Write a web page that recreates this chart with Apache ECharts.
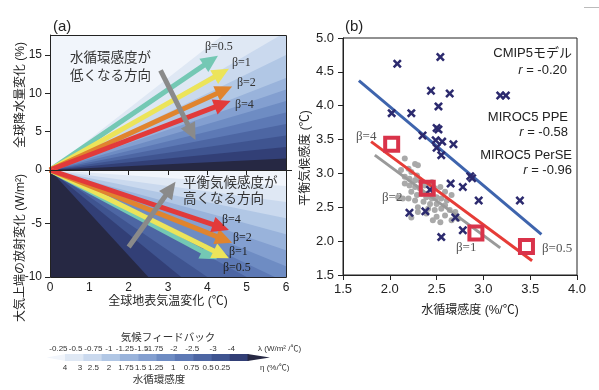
<!DOCTYPE html>
<html><head><meta charset="utf-8">
<script src="https://cdn.jsdelivr.net/npm/echarts@6/dist/echarts.min.js"></script>
<style>html,body{margin:0;padding:0;background:#fff}#c{width:599px;height:390px}</style>
</head><body><div id="c"></div>
<script>
// ---------- Panel (a) ----------
const tempTicks = [0, 1, 2, 3, 4, 5, 6];
const etaLevels = [4, 3, 2.5, 2, 1.75, 1.5, 1.25, 1, 0.75, 0.5, 0.25];
const lambdaLevels = [-0.25, -0.5, -0.75, -1, -1.25, -1.5, -1.75, -2, -2.5, -3, -4];
const binColors = ['#f1f5fb', '#dfe8f4', '#cad9ee', '#b1c7e5', '#99b3db', '#839fd0', '#6e8cc3', '#5d79b5', '#4d66a3', '#3f5490', '#323f76', '#262843'];
const betaLabels = ['β=0.5', 'β=1', 'β=2', 'β=4'];
const arrowColors = ['#74c8b4', '#ece45a', '#e0842e', '#e23a3a'];
const precipArrowEnds = [[4.27, 14.9], [4.55, 13.2], [4.63, 10.9], [4.59, 9.0]];
const radArrowEnds = [[4.25, -8.35], [4.55, -8.25], [4.63, -6.8], [4.55, -5.6]];
const grayArrowTop = [[2.81, 13.0], [3.70, 3.9]];
const grayArrowBottom = [[2.0, -7.2], [3.19, -1.1]];

// ---------- Panel (b) ----------
const cmip5 = [[2.08,4.62],[2.54,4.72],[2.44,4.22],[2.64,4.18],[3.18,4.15],[3.24,4.15],[2.02,3.89],[2.23,3.89],[2.52,3.99],[2.50,3.67],[2.52,3.65],[2.35,3.56],[2.49,3.49],[2.56,3.47],[2.68,3.43],[2.50,3.38],[2.55,3.27],[2.86,2.96],[2.88,2.93],[2.65,2.85],[2.78,2.80],[2.95,2.60],[3.39,2.60],[2.43,2.76],[2.21,2.42],[2.38,2.44],[2.70,2.35],[2.78,2.16],[2.55,2.06]];
const ppe = [[2.16,3.22],[2.27,3.14],[2.30,3.12],[2.20,3.07],[2.23,3.02],[2.29,2.97],[2.16,2.95],[2.21,2.92],[2.27,2.90],[2.32,2.90],[2.16,2.85],[2.21,2.82],[2.27,2.80],[2.32,2.78],[2.37,2.82],[2.45,2.87],[2.48,2.78],[2.54,2.80],[2.66,2.68],[2.23,2.73],[2.29,2.68],[2.34,2.70],[2.39,2.65],[2.45,2.63],[2.50,2.65],[2.55,2.63],[2.61,2.60],[2.20,2.63],[2.27,2.60],[2.36,2.58],[2.43,2.55],[2.50,2.55],[2.59,2.53],[2.30,2.50],[2.41,2.48],[2.48,2.46],[2.55,2.48],[2.64,2.46],[2.70,2.43],[2.50,2.36],[2.59,2.38],[2.46,2.31],[2.54,2.28],[2.66,2.31],[2.73,2.33],[2.09,2.65],[2.14,2.63],[2.59,2.73],[2.30,2.43],[2.39,2.41],[2.23,2.35],[2.12,3.05],[2.40,2.70]];
const perse = [[2.02, 3.43], [2.40, 2.78], [2.92, 2.12], [3.46, 1.92]];
const cmip5Fit = [[1.67, 4.37], [3.62, 2.10]];
const perseFit = [[1.80, 3.47], [3.52, 1.71]];
const ppeFit = [[1.84, 3.27], [3.18, 1.90]];
const xTicksB = [1.5, 2.0, 2.5, 3.0, 3.5, 4.0];
const yTicksB = [1.5, 2.0, 2.5, 3.0, 3.5, 4.0, 4.5, 5.0];

// ---------- Colorbar label layout (in colorbar units) ----------
const cbLambdaPos = [-0.36, 0.58, 1.55, 2.4, 3.27, 4.18, 4.87, 5.95, 6.95, 8.09, 9.09];
const cbEtaPos = [0, 0.82, 1.55, 2.4, 3.33, 4.13, 4.96, 5.91, 6.91, 7.82, 8.6];

const SANS = "'Liberation Sans','Noto Sans CJK JP',sans-serif";
const SERIF = "'Liberation Serif','DejaVu Serif',serif";
const AX = '#222';

const tMax = tempTicks[tempTicks.length - 1];

const topWedges = etaLevels.map((eta, i) => ({
  type: 'line', xAxisIndex: 0, yAxisIndex: 0, silent: true, z: 1,
  data: [[0, 0], [tMax, eta * tMax]], symbol: 'none',
  lineStyle: { width: 0, opacity: 0 },
  areaStyle: { color: binColors[i + 1], opacity: 1, origin: 'start' }
}));
const bottomWedges = lambdaLevels.map((lam, i) => ({ lam, i })).reverse().map(({ lam, i }) => ({
  type: 'line', xAxisIndex: 1, yAxisIndex: 1, silent: true, z: 1,
  data: [[0, 0], [tMax, lam * tMax]], symbol: 'none',
  lineStyle: { width: 0, opacity: 0 },
  areaStyle: { color: binColors[i], opacity: 1, origin: 'end' }
}));

function arrowRender(params, api) {
  const p0 = api.coord([api.value(0), api.value(1)]);
  const p1 = api.coord([api.value(2), api.value(3)]);
  const color = api.visual('color');
  const dx = p1[0] - p0[0], dy = p1[1] - p0[1];
  const len = Math.hypot(dx, dy);
  const ux = dx / len, uy = dy / len, nx = -uy, ny = ux;
  const hl = 17, hw = 8;
  const b = [p1[0] - ux * hl, p1[1] - uy * hl];
  return {
    type: 'group', children: [
      { type: 'line', shape: { x1: p0[0], y1: p0[1], x2: b[0] + ux * 2, y2: b[1] + uy * 2 }, style: { stroke: color, lineWidth: 5 } },
      { type: 'polygon', shape: { points: [p1, [b[0] + nx * hw, b[1] + ny * hw], [b[0] - nx * hw, b[1] - ny * hw]] }, style: { fill: color } }
    ]
  };
}

const topArrows = precipArrowEnds.map((e, i) => ({ value: [0, 0, e[0], e[1]], itemStyle: { color: arrowColors[i] } }))
  .concat([{ value: [grayArrowTop[0][0], grayArrowTop[0][1], grayArrowTop[1][0], grayArrowTop[1][1]], itemStyle: { color: '#8a8a8a' } }]);
const bottomArrows = radArrowEnds.map((e, i) => ({ value: [0, 0, e[0], e[1]], itemStyle: { color: arrowColors[i] } }))
  .concat([{ value: [grayArrowBottom[0][0], grayArrowBottom[0][1], grayArrowBottom[1][0], grayArrowBottom[1][1]], itemStyle: { color: '#8a8a8a' } }]);

// colorbar bins: index 0..11
const cbData = binColors.map((c, i) => ({ value: [i, 0.5], itemStyle: { color: c } }));
function cbRender(params, api) {
  const i = api.value(0);
  const yT = api.coord([0, 1])[1], yB = api.coord([0, 0])[1], ym = (yT + yB) / 2;
  const color = api.visual('color');
  const n = binColors.length;
  if (i === 0) {
    const xl = api.coord([-1, 0])[0], xr = api.coord([0, 0])[0];
    return { type: 'polygon', shape: { points: [[xl, ym], [xr + 0.5, yT], [xr + 0.5, yB]] }, style: { fill: color } };
  }
  if (i === n - 1) {
    const xl = api.coord([n - 2, 0])[0], xr = api.coord([n - 0.8, 0])[0];
    return { type: 'polygon', shape: { points: [[xl - 0.5, yT], [xl - 0.5, yB], [xr, ym]] }, style: { fill: color } };
  }
  const x0 = api.coord([i - 1, 0])[0], x1 = api.coord([i, 0])[0];
  return { type: 'rect', shape: { x: x0, y: yT, width: x1 - x0 + 0.5, height: yB - yT }, style: { fill: color } };
}

const crossPath = 'path://M2,0 L5,3 L8,0 L10,2 L7,5 L10,8 L8,10 L5,7 L2,10 L0,8 L3,5 L0,2 Z';

function txt(text, x, y, o) {
  o = o || {};
  const el = {
    type: 'text', x, y, z: 100, rotation: o.rot || 0,
    style: {
      text, fill: o.color || '#222', fontSize: o.size || 12, fontFamily: o.family || SANS,
      fontStyle: o.style || 'normal',
      textAlign: o.align || 'left', align: o.align || 'left',
      textVerticalAlign: 'middle', verticalAlign: 'middle',
      rich: o.rich
    }
  };
  return el;
}

const PA = { left: 50, top: 35, width: 236, hTop: 135, hBot: 107 };

const graphic = [
  { type: 'rect', z: 100, shape: { x: PA.left + 0.5, y: PA.top + 0.5, width: PA.width, height: PA.hTop + PA.hBot }, style: { fill: 'none', stroke: AX, lineWidth: 1 } },
  { type: 'line', z: 100, shape: { x1: PA.left, y1: PA.top + PA.hTop + 0.5, x2: PA.left + PA.width + 6, y2: PA.top + PA.hTop + 0.5 }, style: { stroke: AX, lineWidth: 1 } },
  { type: 'line', z: 100, shape: { x1: 584, y1: 7.5, x2: 599, y2: 7.5 }, style: { stroke: '#bbb', lineWidth: 1 } },
  txt('(a)', 53, 27, { size: 15 }),
  txt('(b)', 345, 27, { size: 15 }),
  txt('全球降水量変化 (%)', 21, 95, { rot: Math.PI / 2, align: 'center' }),
  txt('大気上端の放射変化 (W/m²)', 21, 248, { rot: Math.PI / 2, align: 'center' }),
  txt('全球地表気温変化 (℃)', 168, 302, { align: 'center' }),
  txt('水循環感度 (%/℃)', 470, 311, { align: 'center' }),
  txt('平衡気候感度 (℃)', 306, 158, { rot: Math.PI / 2, align: 'center' }),
  txt('水循環感度が', 70, 58, { size: 13.5, color: '#333' }),
  txt('低くなる方向', 70, 76, { size: 13.5, color: '#333' }),
  txt('平衡気候感度が', 183, 183, { size: 13.5, color: '#333' }),
  txt('高くなる方向', 183, 199, { size: 13.5, color: '#333' }),
  txt(betaLabels[0], 205, 47, { family: SERIF, color: '#333' }),
  txt(betaLabels[1], 232, 63, { family: SERIF, color: '#333' }),
  txt(betaLabels[2], 237, 83, { family: SERIF, color: '#333' }),
  txt(betaLabels[3], 235, 105, { family: SERIF, color: '#333' }),
  txt(betaLabels[3], 222, 220, { family: SERIF, color: '#222' }),
  txt(betaLabels[2], 233, 238, { family: SERIF, color: '#222' }),
  txt(betaLabels[1], 229, 252, { family: SERIF, color: '#222' }),
  txt(betaLabels[0], 223, 268, { family: SERIF, color: '#222' }),
  txt('CMIP5モデル', 572, 53, { size: 13, align: 'right' }),
  txt('{i|r} = -0.20', 567, 70, { size: 13, align: 'right', rich: { i: { fontStyle: 'italic', fontSize: 13, fontFamily: SANS } } }),
  txt('MIROC5 PPE', 568, 117, { size: 13, align: 'right' }),
  txt('{i|r} = -0.58', 568, 132, { size: 13, align: 'right', rich: { i: { fontStyle: 'italic', fontSize: 13, fontFamily: SANS } } }),
  txt('MIROC5 PerSE', 572, 155, { size: 13, align: 'right' }),
  txt('{i|r} = -0.96', 572, 170, { size: 13, align: 'right', rich: { i: { fontStyle: 'italic', fontSize: 13, fontFamily: SANS } } }),
  txt(betaLabels[3], 356, 137, { family: SERIF, size: 13, color: '#555' }),
  txt(betaLabels[2], 382, 198, { family: SERIF, size: 13, color: '#555' }),
  txt(betaLabels[1], 456, 248, { family: SERIF, size: 13, color: '#555' }),
  txt(betaLabels[0], 542, 249, { family: SERIF, size: 13, color: '#555' }),
  txt('気候フィードバック', 168, 338, { size: 10.5, align: 'center', color: '#333' }),
  txt('水循環感度', 159, 380, { size: 10.5, align: 'center', color: '#333' }),
  txt('λ (W/m² /℃)', 258, 349, { size: 8, color: '#333' }),
  txt('η (%/℃)', 260, 368, { size: 8, color: '#333' })
];

const option = {
  animation: false,
  backgroundColor: '#fff',
  textStyle: { fontFamily: SANS },
  grid: [
    { left: PA.left, top: PA.top, width: PA.width, height: PA.hTop, show: true, backgroundColor: binColors[0], borderWidth: 0 },
    { left: PA.left, top: PA.top + PA.hTop, width: PA.width, height: PA.hBot, show: true, backgroundColor: binColors[binColors.length - 1], borderWidth: 0 },
    { left: 343, top: 38, width: 234, height: 237, show: true, backgroundColor: 'transparent', borderColor: AX, borderWidth: 1 },
    { left: 46.7, top: 354, width: 223.3, height: 7 }
  ],
  xAxis: [
    { gridIndex: 0, type: 'value', min: 0, max: tMax, interval: 1, show: false },
    { gridIndex: 1, type: 'value', min: 0, max: tMax, interval: 1, z: 10,
      axisLine: { show: true, lineStyle: { color: AX } }, axisTick: { show: true, length: 5, lineStyle: { color: AX } },
      axisLabel: { color: AX, fontSize: 12, margin: 5 }, splitLine: { show: false } },
    { gridIndex: 2, type: 'value', min: xTicksB[0], max: xTicksB[xTicksB.length - 1], interval: 0.5, z: 10,
      axisLine: { show: true, onZero: false, lineStyle: { color: AX } }, axisTick: { show: true, length: 5, lineStyle: { color: AX } },
      axisLabel: { color: AX, fontSize: 13, margin: 8, formatter: v => v.toFixed(1) }, splitLine: { show: false } },
    { gridIndex: 3, type: 'value', min: -1, max: 11.2, position: 'bottom',
      axisLine: { show: false }, axisTick: { show: false }, splitLine: { show: false },
      axisLabel: { fontSize: 8, color: '#333', margin: 3, customValues: cbEtaPos,
        formatter: v => { const k = cbEtaPos.indexOf(v); return k >= 0 ? String(etaLevels[k]) : ''; } } },
    { gridIndex: 3, type: 'value', min: -1, max: 11.2, position: 'top',
      axisLine: { show: false }, axisTick: { show: false }, splitLine: { show: false },
      axisLabel: { fontSize: 8, color: '#333', margin: 1, customValues: cbLambdaPos,
        formatter: v => { const k = cbLambdaPos.indexOf(v); return k >= 0 ? String(lambdaLevels[k]) : ''; } } }
  ],
  yAxis: [
    { gridIndex: 0, type: 'value', min: 0, max: 17.6, interval: 5, z: 10,
      axisLine: { show: true, lineStyle: { color: AX } },
      axisTick: { show: true, length: 5, lineStyle: { color: AX }, customValues: [0, 5, 10, 15] },
      axisLabel: { color: AX, fontSize: 12, margin: 8, customValues: [0, 5, 10, 15] }, splitLine: { show: false } },
    { gridIndex: 1, type: 'value', min: -10, max: 0, interval: 5, z: 10,
      axisLine: { show: true, lineStyle: { color: AX } },
      axisTick: { show: true, length: 5, lineStyle: { color: AX } },
      axisLabel: { color: AX, fontSize: 12, margin: 8, showMaxLabel: false }, splitLine: { show: false } },
    { gridIndex: 2, type: 'value', min: yTicksB[0], max: yTicksB[yTicksB.length - 1], interval: 0.5, z: 10,
      axisLine: { show: true, onZero: false, lineStyle: { color: AX } }, axisTick: { show: true, length: 5, lineStyle: { color: AX } },
      axisLabel: { color: AX, fontSize: 13, margin: 9, formatter: v => v.toFixed(1) }, splitLine: { show: false } },
    { gridIndex: 3, type: 'value', min: 0, max: 1, show: false }
  ],
  series: [
    ...topWedges,
    ...bottomWedges,
    { type: 'custom', xAxisIndex: 0, yAxisIndex: 0, z: 5, renderItem: arrowRender, data: topArrows, clip: false },
    { type: 'custom', xAxisIndex: 1, yAxisIndex: 1, z: 5, renderItem: arrowRender, data: bottomArrows, clip: false },
    { type: 'scatter', xAxisIndex: 2, yAxisIndex: 2, z: 3, data: ppe, symbol: 'circle', symbolSize: 6, itemStyle: { color: '#a9a9a9', opacity: 1 } },
    { type: 'line', xAxisIndex: 2, yAxisIndex: 2, z: 4, data: ppeFit, symbol: 'none', lineStyle: { color: '#9a9a9a', width: 3 } },
    { type: 'line', xAxisIndex: 2, yAxisIndex: 2, z: 4, data: cmip5Fit, symbol: 'none', lineStyle: { color: '#3e64ad', width: 3 } },
    { type: 'line', xAxisIndex: 2, yAxisIndex: 2, z: 4, data: perseFit, symbol: 'none', lineStyle: { color: '#e63c37', width: 3 } },
    { type: 'scatter', xAxisIndex: 2, yAxisIndex: 2, z: 5, data: cmip5, symbol: crossPath, symbolSize: 9, itemStyle: { color: '#2c2a6e', opacity: 1 } },
    { type: 'scatter', xAxisIndex: 2, yAxisIndex: 2, z: 6, data: perse, symbol: 'rect', symbolSize: 13, itemStyle: { color: 'rgba(0,0,0,0)', borderColor: '#d9334a', borderWidth: 4, opacity: 1 } },
    { type: 'custom', xAxisIndex: 3, yAxisIndex: 3, renderItem: cbRender, data: cbData, clip: false }
  ],
  graphic
};

const chart = echarts.init(document.getElementById('c'), null, { renderer: 'canvas' });
chart.setOption(option);
</script></body></html>
